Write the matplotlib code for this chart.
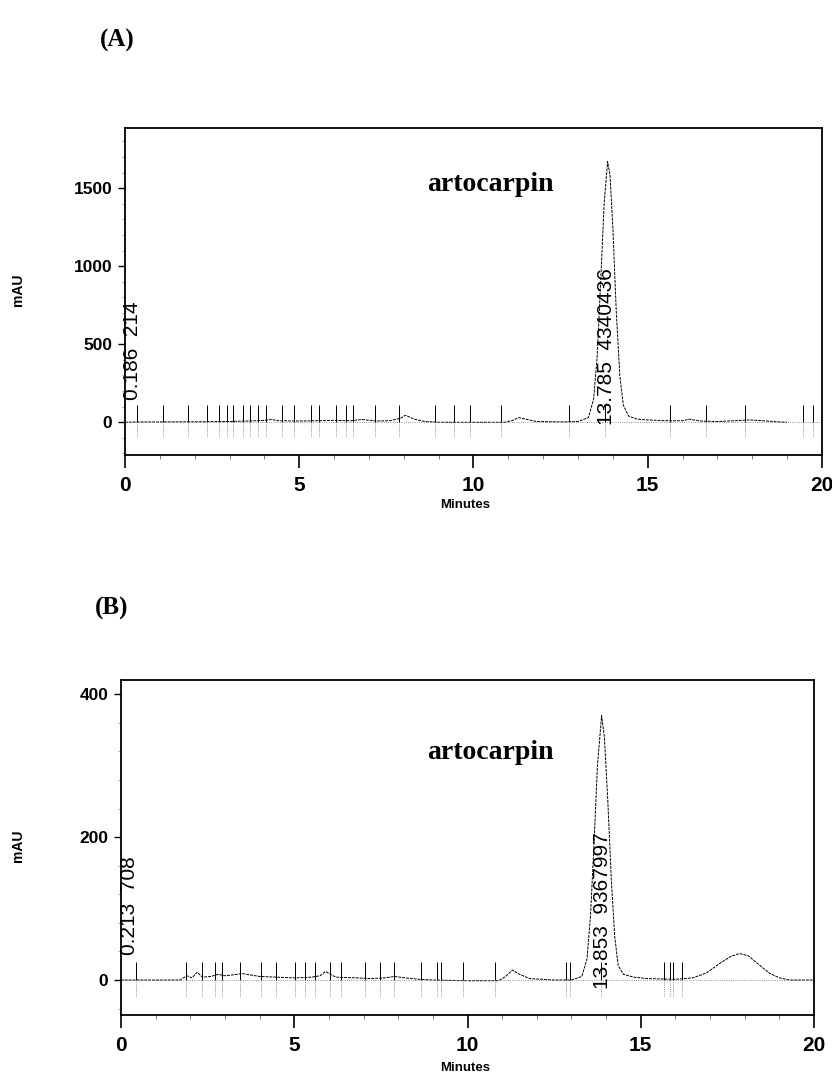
import numpy as np
import matplotlib
matplotlib.use("Agg")
import matplotlib.pyplot as plt
from matplotlib.ticker import MultipleLocator

# ---- chromatogram A ----
time_a = [0.0, 0.3, 1.0, 2.0, 3.0, 3.5, 4.0, 4.2, 4.4, 5.0, 5.5, 6.0, 6.5, 6.8, 7.2,
          7.6, 7.9, 8.05, 8.3, 8.6, 9.0, 10.0, 10.9, 11.1, 11.3, 11.5, 11.8, 12.5,
          13.0, 13.3, 13.45, 13.55, 13.65, 13.75, 13.85, 13.92, 14.0, 14.1, 14.2,
          14.3, 14.45, 14.7, 15.0, 15.5, 16.0, 16.2, 16.5, 17.0, 17.5, 17.9, 18.3,
          18.7, 19.0]
mau_a = [0, 2, 2, 3, 5, 8, 12, 18, 10, 8, 10, 12, 10, 18, 8,
         10, 25, 45, 20, 5, 0, 0, 0, 10, 30, 20, 5, 2,
         5, 30, 150, 420, 900, 1400, 1670, 1580, 1250, 700, 300,
         110, 40, 20, 15, 10, 10, 20, 8, 5, 10, 15, 10,
         3, 0]
events_a = [0.34, 1.10, 1.82, 2.35, 2.69, 2.93, 3.09, 3.40, 3.60, 3.81, 4.06, 4.51,
            4.84, 5.34, 5.58, 6.07, 6.33, 6.54, 7.17, 7.85, 8.90, 9.43, 9.91, 10.79,
            12.74, 13.78, 15.63, 16.66, 17.79, 19.47, 19.74]

# ---- chromatogram B ----
time_b = [0.0, 0.4, 1.0, 1.7, 1.9, 2.05, 2.2, 2.35, 2.6, 2.8, 3.0, 3.2, 3.5, 4.0,
          4.5, 5.0, 5.5, 5.75, 5.9, 6.2, 6.8, 7.2, 7.6, 7.9, 8.2, 8.6, 9.0, 10.0,
          10.9, 11.1, 11.3, 11.5, 11.8, 12.5, 13.0, 13.3, 13.45, 13.55, 13.65,
          13.75, 13.87, 13.95, 14.05, 14.15, 14.25, 14.35, 14.5, 14.8, 15.2, 16.0,
          16.5, 16.9, 17.3, 17.6, 17.85, 18.1, 18.4, 18.7, 19.0, 19.3, 20.0]
mau_b = [0, 0, 0, 0, 6, 3, 11, 4, 5, 8, 6, 7, 9, 5,
         4, 3, 4, 6, 12, 4, 3, 2, 3, 5, 3, 1, 0, -1,
         -1, 5, 14, 8, 2, 0, 0, 5, 30, 90, 190,
         300, 370, 340, 250, 140, 60, 20, 8, 4, 2, 1,
         3, 10, 24, 33, 37, 34, 22, 10, 3, 0, 0]
events_b = [0.42, 1.88, 2.34, 2.71, 2.91, 3.43, 4.03, 4.46, 5.02, 5.31, 5.60, 6.03,
            6.34, 7.04, 7.47, 7.89, 8.65, 9.13, 9.23, 9.88, 10.79, 12.83, 12.97,
            13.85, 15.68, 15.85, 15.94, 16.20]

peaks_a = [(0.186, "0.186  214"), (13.785, "13.785  4340436")]
peaks_b = [(0.213, "0.213  708"), (13.853, "13.853  9367997")]

NARROW = ["Liberation Sans Narrow", "Liberation Sans", "DejaVu Sans"]

fig = plt.figure(figsize=(8.32, 10.74), dpi=100)
axA = fig.add_axes([0.1502, 0.5763, 0.8377, 0.3045])
axB = fig.add_axes([0.1454, 0.0549, 0.8330, 0.3120])


def draw(ax, t, y, events, peaks, ylim, ymaj, ymin, up, down, lab_y, peak_lab_y):
    ax.plot(t, y, color="black", lw=0.7, ls=(0, (3, 1)))
    ax.axhline(0, color="0.45", lw=0.6, ls=":")
    for e in events:
        ax.vlines(e, 0, up, color="black", lw=0.7)
        ax.vlines(e, down, 0, color="0.4", lw=0.6, ls=":")
    x0, txt = peaks[0]
    ax.text(x0 + 0.02, lab_y, txt, rotation=90, ha="center", va="bottom",
            fontsize=15, family="Liberation Sans")
    x1, txt = peaks[1]
    ax.text(x1 + 0.03, peak_lab_y, txt, rotation=90, ha="center", va="bottom",
            fontsize=15, family="Liberation Sans")
    ax.set_xlim(0, 20)
    ax.set_ylim(*ylim)
    ax.xaxis.set_major_locator(MultipleLocator(5))
    ax.xaxis.set_minor_locator(MultipleLocator(1))
    ax.yaxis.set_major_locator(MultipleLocator(ymaj))
    ax.yaxis.set_minor_locator(MultipleLocator(ymin))
    ax.tick_params(axis="x", which="major", direction="out", length=9, width=1.2,
                   labelsize=15, pad=6)
    ax.tick_params(axis="x", which="minor", direction="out", length=3, width=0.6,
                   color="0.4")
    ax.tick_params(axis="y", which="major", direction="out", length=5, width=1,
                   labelsize=12.5, pad=4)
    ax.tick_params(axis="y", which="minor", direction="out", length=2, width=0.5,
                   color="0.5")
    for lbl in ax.get_xticklabels():
        lbl.set_fontweight("bold")
        lbl.set_family(NARROW)
    for lbl in ax.get_yticklabels():
        lbl.set_fontweight("bold")
        lbl.set_family("Liberation Sans")
    for s in ax.spines.values():
        s.set_linewidth(1.3)


draw(axA, time_a, mau_a, events_a, peaks_a, (-210, 1885), 500, 100, 110, -90, 140, -15)
draw(axB, time_b, mau_b, events_b, peaks_b, (-49, 420), 200, 40, 25, -22, 35, -12)

axA.text(10.5, 1526, "artocarpin", fontsize=20, fontweight="bold",
         family="Liberation Serif", ha="center", va="center")
axB.text(10.65, 319, "artocarpin", fontsize=20, fontweight="bold",
         family="Liberation Serif", ha="center", va="center")

fig.text(100 / 832, 1 - 40 / 1074, "(A)", fontsize=18, fontweight="bold",
         family="Liberation Serif", ha="left", va="center")
fig.text(95 / 832, 1 - 608 / 1074, "(B)", fontsize=18, fontweight="bold",
         family="Liberation Serif", ha="left", va="center")

for yc in [290, 846]:
    fig.text(18 / 832, 1 - yc / 1074, "mAU", rotation=90, fontsize=10, fontweight="bold",
             family="Liberation Sans", ha="center", va="center")
fig.text(465 / 832, 1 - 505 / 1074, "Minutes", fontsize=9.5, fontweight="bold",
         family=NARROW, ha="center", va="center")
fig.text(465 / 832, 1 - 1068 / 1074, "Minutes", fontsize=9.5, fontweight="bold",
         family=NARROW, ha="center", va="center")

fig.savefig("out.png", dpi=100)
